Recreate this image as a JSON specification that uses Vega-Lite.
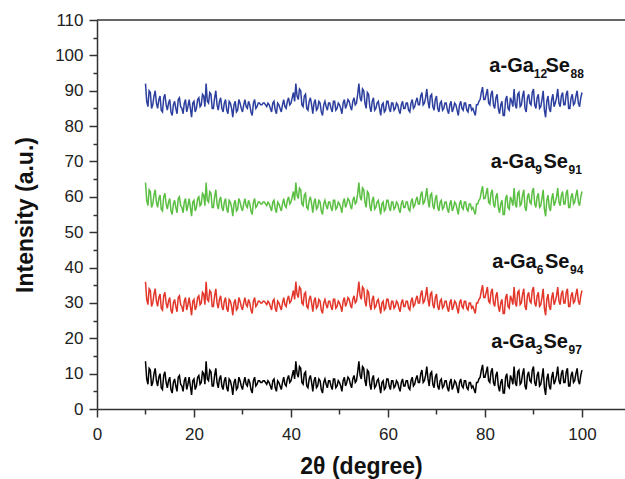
{
"$schema": "https://vega.github.io/schema/vega-lite/v6.json",
"width": 528, "height": 389,
"autosize": {"type": "none"},
"padding": {"left": 97, "top": 20, "right": 0, "bottom": 70},
"config": {"view": {"stroke": null}, "font": "Liberation Sans"},
"datasets": {
"labels": [
{"x": 80.9, "v": 95.3, "t": "a-Ga", "p": "m"},
{"x": 80.9, "v": 95.3, "t": "12", "p": "s"},
{"x": 100.4, "v": 95.3, "t": "Se", "p": "M"},
{"x": 100.4, "v": 95.3, "t": "88", "p": "S"},
{"x": 81.2, "v": 68.2, "t": "a-Ga", "p": "m"},
{"x": 81.2, "v": 68.2, "t": "9", "p": "s"},
{"x": 100.0, "v": 68.2, "t": "Se", "p": "M"},
{"x": 100.0, "v": 68.2, "t": "91", "p": "S"},
{"x": 81.5, "v": 39.9, "t": "a-Ga", "p": "m"},
{"x": 81.5, "v": 39.9, "t": "6", "p": "s"},
{"x": 100.3, "v": 39.9, "t": "Se", "p": "M"},
{"x": 100.3, "v": 39.9, "t": "94", "p": "S"},
{"x": 81.3, "v": 17.2, "t": "a-Ga", "p": "m"},
{"x": 81.3, "v": 17.2, "t": "3", "p": "s"},
{"x": 100.0, "v": 17.2, "t": "Se", "p": "M"},
{"x": 100.0, "v": 17.2, "t": "97", "p": "S"}
],
"frame": [{"x": 0, "x2": 108.87, "v": 110}]
},
"encoding": {
"x": {"field": "x", "type": "quantitative",
"scale": {"domain": [0, 108.87], "nice": false, "zero": false},
"axis": {"values": [0,10,20,30,40,50,60,70,80,90,100],
"labelExpr": "datum.value % 20 === 0 ? datum.label : ''",
"title": "2θ (degree)", "titleFontSize": 23, "titleFontWeight": "bold", "titleColor": "#111", "titlePadding": 13,
"labelFontSize": 17, "labelColor": "#222", "labelPadding": 9, "labelFlush": false, "labelOverlap": false,
"tickSize": {"condition": {"test": "datum.value % 20 !== 0", "value": 5}, "value": 8},
"tickColor": "#333", "tickWidth": 1.5, "domainColor": "#333", "domainWidth": 1.5, "grid": false}},
"y": {"field": "v", "type": "quantitative",
"scale": {"domain": [0, 110], "nice": false},
"axis": {"values": [0,5,10,15,20,25,30,35,40,45,50,55,60,65,70,75,80,85,90,95,100,105,110],
"labelExpr": "datum.value % 10 === 0 ? datum.label : ''",
"title": "Intensity (a.u.)", "titleFontSize": 23, "titleFontWeight": "bold", "titleColor": "#111", "titlePadding": 17,
"labelFontSize": 17, "labelColor": "#222", "labelPadding": 6, "labelFlush": false, "labelOverlap": false,
"tickSize": {"condition": {"test": "datum.value % 10 !== 0", "value": 4}, "value": 8},
"tickColor": "#333", "tickWidth": 1.5, "domainColor": "#333", "domainWidth": 1.5, "grid": false}}
},
"layer": [
{
"data": {"values": "x,k,r,g,b\n10,13.5,36,64,92\n10.25,8.5,31,59,87\n10.5,7,29.5,57.5,85.5\n10.75,11.5,34,62,90\n11,11,33.5,61.5,89.5\n11.25,6.5,29,57,85\n11.5,7.5,30,58,86\n11.75,10,32.5,60.5,88.5\n12,11.5,34,62,90\n12.25,8,30.5,58.5,86.5\n12.5,6.5,29,57,85\n12.75,9,31.5,59.5,87.5\n13,10,32.5,60.5,88.5\n13.25,6,28.5,56.5,84.5\n13.5,5.5,28,56,84\n13.75,9.5,32,60,88\n14,10.5,33,61,89\n14.25,7.5,30,58,86\n14.5,6,28.5,56.5,84.5\n14.75,8,30.5,58.5,86.5\n15,9,31.5,59.5,87.5\n15.25,5.5,28,56,84\n15.5,4.5,27,55,83\n15.75,7.5,30,58,86\n16,8.5,31,59,87\n16.25,6.5,29,57,85\n16.5,5,27.5,55.5,83.5\n16.75,9,31.5,59.5,87.5\n17,9.5,32,60,88\n17.25,7,29.5,57.5,85.5\n17.5,6.5,29,57,85\n17.75,5,27.5,55.5,83.5\n18,8,30.5,58.5,86.5\n18.25,9,31.5,59.5,87.5\n18.5,5.5,28,56,84\n18.75,7,29.5,57.5,85.5\n19,9,31.5,59.5,87.5\n19.25,6.5,29,57,85\n19.5,4,26.5,54.5,82.5\n19.75,8,30.5,58.5,86.5\n20,8.5,31,59,87\n20.25,5.5,28,56,84\n20.5,6.5,29,57,85\n20.75,9,31.5,59.5,87.5\n21,9.5,32,60,88\n21.25,7,29.5,57.5,85.5\n21.5,7.5,30,58,86\n21.75,10.5,33,61,89\n22,10,32.5,60.5,88.5\n22.25,7,29.5,57.5,85.5\n22.5,13.5,36,64,92\n22.75,8.5,31,59,87\n23,8,30.5,58.5,86.5\n23.25,11,33.5,61.5,89.5\n23.5,10.5,33,61,89\n23.75,6.5,29,57,85\n24,6.5,29,57,85\n24.25,9.5,32,60,88\n24.5,11.5,34,62,90\n24.75,7.5,30,58,86\n25,6,28.5,56.5,84.5\n25.25,8.5,31,59,87\n25.5,9.5,32,60,88\n25.75,6.5,29,57,85\n26,5.5,28,56,84\n26.25,8,30.5,58.5,86.5\n26.5,9,31.5,59.5,87.5\n26.75,6,28.5,56.5,84.5\n27,5,27.5,55.5,83.5\n27.25,8.5,31,59,87\n27.5,8,30.5,58.5,86.5\n27.75,6.5,29,57,85\n28,4,26.5,54.5,82.5\n28.25,7.5,30,58,86\n28.5,8.5,31,59,87\n28.75,5.5,28,56,84\n29,6,28.5,56.5,84.5\n29.25,9,31.5,59.5,87.5\n29.5,8,30.5,58.5,86.5\n29.75,6.5,29,57,85\n30,5.5,28,56,84\n30.25,7.5,30,58,86\n30.5,9,31.5,59.5,87.5\n30.75,7,29.5,57.5,85.5\n31,6.5,29,57,85\n31.25,8.5,31,59,87\n31.5,7.5,30,58,86\n31.75,5.5,28,56,84\n32,4.5,27,55,83\n32.25,8,30.5,58.5,86.5\n32.5,9,31.5,59.5,87.5\n32.75,6.5,29,57,85\n33,7,29.5,57.5,85.5\n33.25,8,30.5,58.5,86.5\n33.5,8,30.5,58.5,86.5\n33.75,7.5,30,58,86\n34,7.5,30,58,86\n34.25,8,30.5,58.5,86.5\n34.5,8,30.5,58.5,86.5\n34.75,7.5,30,58,86\n35,7,29.5,57.5,85.5\n35.25,8,30.5,58.5,86.5\n35.5,7.5,30,58,86\n35.75,6.5,29,57,85\n36,5.5,28,56,84\n36.25,8,30.5,58.5,86.5\n36.5,8.5,31,59,87\n36.75,6,28.5,56.5,84.5\n37,5,27.5,55.5,83.5\n37.25,8,30.5,58.5,86.5\n37.5,7.5,30,58,86\n37.75,6.5,29,57,85\n38,5.5,28,56,84\n38.25,7.5,30,58,86\n38.5,9,31.5,59.5,87.5\n38.75,7,29.5,57.5,85.5\n39,6.5,29,57,85\n39.25,8.5,31,59,87\n39.5,9.5,32,60,88\n39.75,7.5,30,58,86\n40,8,30.5,58.5,86.5\n40.25,9.5,32,60,88\n40.5,11,33.5,61.5,89.5\n40.75,8.5,31,59,87\n41,13.5,36,64,92\n41.25,10,32.5,60.5,88.5\n41.5,9,31.5,59.5,87.5\n41.75,12,34.5,62.5,90.5\n42,11.5,34,62,90\n42.25,7.5,30,58,86\n42.5,7,29.5,57.5,85.5\n42.75,10,32.5,60.5,88.5\n43,10.5,33,61,89\n43.25,6.5,29,57,85\n43.5,6,28.5,56.5,84.5\n43.75,8.5,31,59,87\n44,9.5,32,60,88\n44.25,7.5,30,58,86\n44.5,5,27.5,55.5,83.5\n44.75,8,30.5,58.5,86.5\n45,9,31.5,59.5,87.5\n45.25,6,28.5,56.5,84.5\n45.5,6.5,29,57,85\n45.75,8.5,31,59,87\n46,8,30.5,58.5,86.5\n46.25,5.5,28,56,84\n46.5,4.5,27,55,83\n46.75,7.5,30,58,86\n47,8.5,31,59,87\n47.25,7,29.5,57.5,85.5\n47.5,6,28.5,56.5,84.5\n47.75,8,30.5,58.5,86.5\n48,8,30.5,58.5,86.5\n48.25,6.5,29,57,85\n48.5,5.5,28,56,84\n48.75,8.5,31,59,87\n49,8.5,31,59,87\n49.25,6,28.5,56.5,84.5\n49.5,6.5,29,57,85\n49.75,8,30.5,58.5,86.5\n50,7.5,30,58,86\n50.25,6.5,29,57,85\n50.5,5,27.5,55.5,83.5\n50.75,8,30.5,58.5,86.5\n51,9,31.5,59.5,87.5\n51.25,6.5,29,57,85\n51.5,7.5,30,58,86\n51.75,9,31.5,59.5,87.5\n52,8.5,31,59,87\n52.25,7,29.5,57.5,85.5\n52.5,6,28.5,56.5,84.5\n52.75,8.5,31,59,87\n53,9.5,32,60,88\n53.25,7.5,30,58,86\n53.5,8,30.5,58.5,86.5\n53.75,10.5,33,61,89\n54,13.5,36,64,92\n54.25,9.5,32,60,88\n54.5,8.5,31,59,87\n54.75,12,34.5,62.5,90.5\n55,11.5,34,62,90\n55.25,8,30.5,58.5,86.5\n55.5,6.5,29,57,85\n55.75,11,33.5,61.5,89.5\n56,10.5,33,61,89\n56.25,7,29.5,57.5,85.5\n56.5,5.5,28,56,84\n56.75,8.5,31,59,87\n57,9.5,32,60,88\n57.25,6,28.5,56.5,84.5\n57.5,6.5,29,57,85\n57.75,8,30.5,58.5,86.5\n58,8.5,31,59,87\n58.25,6.5,29,57,85\n58.5,4.5,27,55,83\n58.75,7.5,30,58,86\n59,8,30.5,58.5,86.5\n59.25,5.5,28,56,84\n59.5,6,28.5,56.5,84.5\n59.75,8.5,31,59,87\n60,8.5,31,59,87\n60.25,6.5,29,57,85\n60.5,5.5,28,56,84\n60.75,8,30.5,58.5,86.5\n61,8,30.5,58.5,86.5\n61.25,6,28.5,56.5,84.5\n61.5,6.5,29,57,85\n61.75,8,30.5,58.5,86.5\n62,7.5,30,58,86\n62.25,6,28.5,56.5,84.5\n62.5,5,27.5,55.5,83.5\n62.75,7.5,30,58,86\n63,8.5,31,59,87\n63.25,6.5,29,57,85\n63.5,6.5,29,57,85\n63.75,8,30.5,58.5,86.5\n64,8,30.5,58.5,86.5\n64.25,6,28.5,56.5,84.5\n64.5,5.5,28,56,84\n64.75,8,30.5,58.5,86.5\n65,9,31.5,59.5,87.5\n65.25,6.5,29,57,85\n65.5,7,29.5,57.5,85.5\n65.75,8.5,31,59,87\n66,9.5,32,60,88\n66.25,7.5,30,58,86\n66.5,7.5,30,58,86\n66.75,10,32.5,60.5,88.5\n67,11,33.5,61.5,89.5\n67.25,7.5,30,58,86\n67.5,8,30.5,58.5,86.5\n67.75,9.5,32,60,88\n68,12,34.5,62.5,90.5\n68.25,8.5,31,59,87\n68.5,6.5,29,57,85\n68.75,10,32.5,60.5,88.5\n69,10.5,33,61,89\n69.25,7,29.5,57.5,85.5\n69.5,6,28.5,56.5,84.5\n69.75,9,31.5,59.5,87.5\n70,10,32.5,60.5,88.5\n70.25,6.5,29,57,85\n70.5,5.5,28,56,84\n70.75,8,30.5,58.5,86.5\n71,8.5,31,59,87\n71.25,6,28.5,56.5,84.5\n71.5,6.5,29,57,85\n71.75,8,30.5,58.5,86.5\n72,8,30.5,58.5,86.5\n72.25,6,28.5,56.5,84.5\n72.5,5,27.5,55.5,83.5\n72.75,7.5,30,58,86\n73,8.5,31,59,87\n73.25,5.5,28,56,84\n73.5,6.5,29,57,85\n73.75,8,30.5,58.5,86.5\n74,7.5,30,58,86\n74.25,6,28.5,56.5,84.5\n74.5,4.5,27,55,83\n74.75,7.5,30,58,86\n75,8.5,31,59,87\n75.25,6.5,29,57,85\n75.5,6,28.5,56.5,84.5\n75.75,8,30.5,58.5,86.5\n76,8,30.5,58.5,86.5\n76.25,6,28.5,56.5,84.5\n76.5,5.5,28,56,84\n76.75,7.5,30,58,86\n77,7.5,30,58,86\n77.25,6,28.5,56.5,84.5\n77.5,6.5,29,57,85\n77.75,5.5,28,56,84\n78,4.5,27,55,83\n78.25,7.5,30,58,86\n78.5,7.5,30,58,86\n78.75,8.5,31,59,87\n79,9,31.5,59.5,87.5\n79.25,11,33.5,61.5,89.5\n79.5,12.5,35,63,91\n79.75,9,31.5,59.5,87.5\n80,9,31.5,59.5,87.5\n80.25,10.5,33,61,89\n80.5,12,34.5,62.5,90.5\n80.75,8,30.5,58.5,86.5\n81,7.5,30,58,86\n81.25,10.5,33,61,89\n81.5,11.5,34,62,90\n81.75,7.5,30,58,86\n82,6.5,29,57,85\n82.25,9.5,32,60,88\n82.5,10.5,33,61,89\n82.75,6.5,29,57,85\n83,5,27.5,55.5,83.5\n83.25,7.5,30,58,86\n83.5,8.5,31,59,87\n83.75,4.5,27,55,83\n84,4.5,27,55,83\n84.25,9,31.5,59.5,87.5\n84.5,10,32.5,60.5,88.5\n84.75,6.5,29,57,85\n85,6,28.5,56.5,84.5\n85.25,9.5,32,60,88\n85.5,8.5,31,59,87\n85.75,7,29.5,57.5,85.5\n86,12,34.5,62.5,90.5\n86.25,7.5,30,58,86\n86.5,6.5,29,57,85\n86.75,10.5,33,61,89\n87,11,33.5,61.5,89.5\n87.25,7,29.5,57.5,85.5\n87.5,7.5,30,58,86\n87.75,10,32.5,60.5,88.5\n88,11.5,34,62,90\n88.25,6.5,29,57,85\n88.5,5.5,28,56,84\n88.75,9.5,32,60,88\n89,10.5,33,61,89\n89.25,8,30.5,58.5,86.5\n89.5,7.5,30,58,86\n89.75,11,33.5,61.5,89.5\n90,12,34.5,62.5,90.5\n90.25,7.5,30,58,86\n90.5,6.5,29,57,85\n90.75,9.5,32,60,88\n91,10.5,33,61,89\n91.25,6.5,29,57,85\n91.5,7,29.5,57.5,85.5\n91.75,9,31.5,59.5,87.5\n92,11.5,34,62,90\n92.25,6,28.5,56.5,84.5\n92.5,4,26.5,54.5,82.5\n92.75,8.5,31,59,87\n93,10,32.5,60.5,88.5\n93.25,6.5,29,57,85\n93.5,5.5,28,56,84\n93.75,9,31.5,59.5,87.5\n94,10.5,33,61,89\n94.25,7,29.5,57.5,85.5\n94.5,8,30.5,58.5,86.5\n94.75,9.5,32,60,88\n95,12,34.5,62.5,90.5\n95.25,8,30.5,58.5,86.5\n95.5,7,29.5,57.5,85.5\n95.75,10,32.5,60.5,88.5\n96,11,33.5,61.5,89.5\n96.25,7.5,30,58,86\n96.5,7.5,30,58,86\n96.75,10.5,33,61,89\n97,11.5,34,62,90\n97.25,6.5,29,57,85\n97.5,6.5,29,57,85\n97.75,9.5,32,60,88\n98,10.5,33,61,89\n98.25,7.5,30,58,86\n98.5,8,30.5,58.5,86.5\n98.75,10,32.5,60.5,88.5\n99,11.5,34,62,90\n99.25,8,30.5,58.5,86.5\n99.5,7,29.5,57.5,85.5\n99.75,9.5,32,60,88\n100,11,33.5,61.5,89.5",
"format": {"type": "csv", "parse": {"x": "number", "k": "number", "r": "number", "g": "number", "b": "number"}}},
"transform": [{"fold": ["b", "g", "r", "k"], "as": ["s", "v"]}],
"mark": {"type": "line", "strokeWidth": 1.5},
"encoding": {
"color": {"field": "s", "type": "nominal",
"scale": {"domain": ["b", "g", "r", "k"], "range": ["#2C3F9E", "#5BBF43", "#E2362A", "#000000"]},
"legend": null}
}
},
{
"data": {"name": "frame"},
"mark": {"type": "rule", "color": "#333", "strokeWidth": 1.5},
"encoding": {"x2": {"field": "x2"}}
},
{
"data": {"name": "labels"},
"transform": [{"filter": "datum.p === 'm'"}],
"mark": {"type": "text", "align": "left", "baseline": "alphabetic", "fontSize": 20, "fontWeight": "bold", "color": "#111"},
"encoding": {"text": {"field": "t"}}
},
{
"data": {"name": "labels"},
"transform": [{"filter": "datum.p === 's'"}],
"mark": {"type": "text", "align": "left", "baseline": "alphabetic", "fontSize": 12, "fontWeight": "bold", "color": "#111", "dx": 44.5, "dy": 6},
"encoding": {"text": {"field": "t"}}
},
{
"data": {"name": "labels"},
"transform": [{"filter": "datum.p === 'M'"}],
"mark": {"type": "text", "align": "right", "baseline": "alphabetic", "fontSize": 20, "fontWeight": "bold", "color": "#111", "dx": -14},
"encoding": {"text": {"field": "t"}}
},
{
"data": {"name": "labels"},
"transform": [{"filter": "datum.p === 'S'"}],
"mark": {"type": "text", "align": "right", "baseline": "alphabetic", "fontSize": 12, "fontWeight": "bold", "color": "#111", "dy": 6},
"encoding": {"text": {"field": "t"}}
}
]
}
